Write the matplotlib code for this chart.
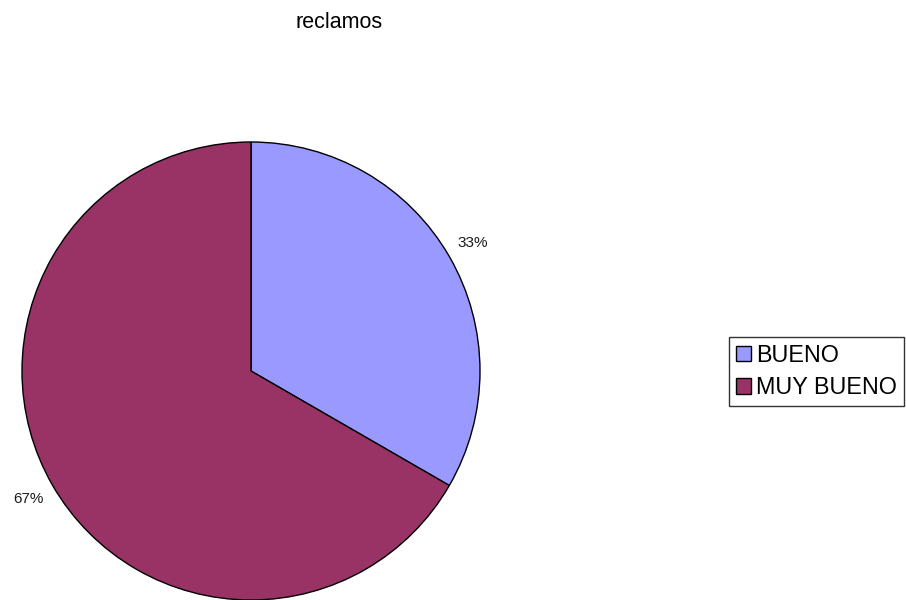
import matplotlib
matplotlib.use("Agg")
import matplotlib.pyplot as plt

plt.rcParams['font.family'] = ['Liberation Sans', 'DejaVu Sans']

# data
categories = ['BUENO', 'MUY BUENO']
counts = [1, 2]
colors = ['#9999FF', '#993366']
title = 'reclamos'

fig = plt.figure(figsize=(9.06, 6.0), dpi=100)

# pie axes: centre ~(251, 371) px, radius ~229 px
cx, cy, r = 251, 371, 229
ax = fig.add_axes([(cx - r) / 906, (600 - cy - r) / 600, 2 * r / 906, 2 * r / 600])
wedges, texts, autotexts = ax.pie(
    counts,
    colors=colors,
    startangle=90,
    counterclock=False,
    autopct='%1.0f%%',
    pctdistance=1.12,
    wedgeprops=dict(edgecolor='black', linewidth=1.0),
    textprops=dict(fontsize=11, color='#1a1a1a'),
)
ax.set_xlim(-1, 1)
ax.set_ylim(-1, 1)
ax.set_aspect('equal')
ax.axis('off')

fig.text(339 / 906, 1 - 22 / 600, title, ha='center', va='center', fontsize=15.5)

leg = fig.legend(
    wedges, categories,
    loc='center left',
    bbox_to_anchor=(729 / 906, 1 - 371.5 / 600),
    fontsize=16.8,
    frameon=True,
    fancybox=False,
    handlelength=0.65,
    handleheight=0.65,
    handletextpad=0.2,
    borderpad=0.3,
    borderaxespad=0.0,
    labelspacing=0.42,
)
leg.get_frame().set_edgecolor('black')
leg.get_frame().set_linewidth(1.0)

fig.savefig('out.png', dpi=100)
